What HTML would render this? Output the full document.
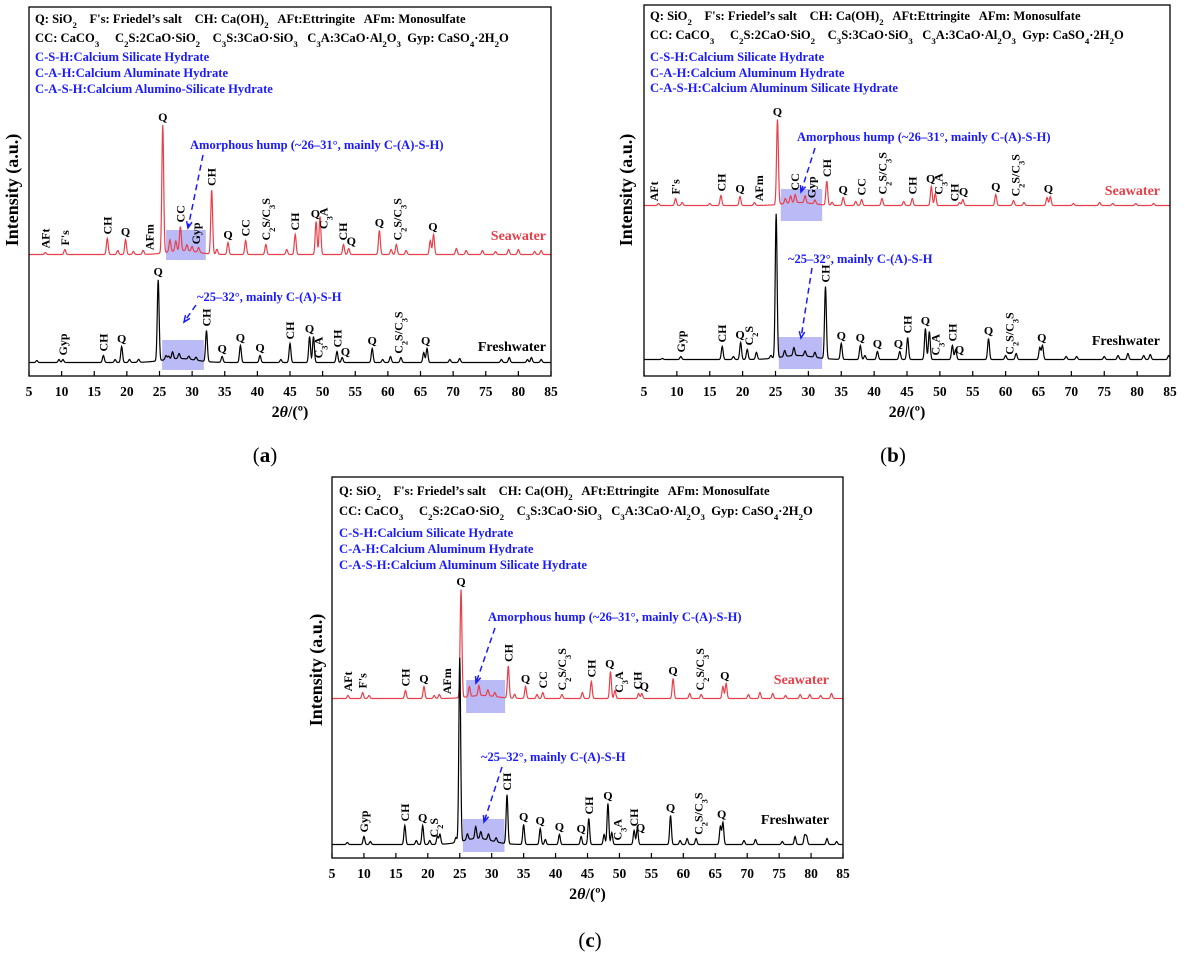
<!DOCTYPE html>
<html><head><meta charset="utf-8">
<style>
html,body{margin:0;padding:0;background:#fff;}
svg{display:block;font-family:"Liberation Serif",serif;}
.lg{font-size:12.6px;font-weight:bold;white-space:pre;}
.pk{font-size:12px;font-weight:bold;}
.tk{font-size:13.5px;font-weight:bold;}
</style></head>
<body>
<svg id="fig" width="1185" height="961" viewBox="0 0 1185 961" xmlns="http://www.w3.org/2000/svg"></svg>
<script>
// ---------- data ----------
const tickLabels = ["5","10","15","20","25","30","35","40","45","50","55","60","65","70","75","80","85"];
const tickValues = [5,10,15,20,25,30,35,40,45,50,55,60,65,70,75,80,85];

// panel (a) peaks: [2theta, intensity]
const seaPeaksA = [[7.5,2],[10.5,5],[17,16],[18.6,4],[19.8,15],[21,3],[22.5,4],[25.5,128],[26.6,12],[27.5,10],[28.2,24],[29.2,6],[30,5],[31,5],[33,64],[33.8,5],[35.5,12],[38.2,14],[41.3,10],[44.5,5],[45.8,20],[49,33],[49.6,38],[53.2,10],[54,6],[58.7,24],[60.5,5],[61.3,10],[62.8,4],[66.5,14],[67,20],[70.5,6],[72,4],[74.5,4],[76.5,3],[78.5,5],[80,5],[82.5,3],[83.5,4]];
const freshPeaksA = [[6.2,2],[9.6,3],[10.2,3],[16.4,7],[18.2,3],[19.2,16],[20.4,3],[21.8,3],[24.8,81],[26,4],[26.4,3],[27,7],[28,5],[29.5,3],[30.6,3],[32.2,31],[34.6,6],[37.4,17],[40.4,7],[43.6,3],[45,19],[48,26],[48.6,26],[52.2,11],[53,5],[57.6,14],[59.2,3],[60.4,6],[62,5],[65.5,10],[66,14],[69.5,3],[71,4],[77.4,3],[78.6,5],[81.4,3],[82,5],[83.5,3]];
// panel (b)
const seaPeaksB = [[7.2,2],[9.8,7],[10.8,3],[15,2],[16.7,10],[19.6,9],[21.8,3],[25.3,85],[26.5,5],[27.3,7],[28,8],[29.5,7],[31,4],[32.8,24],[33.6,3],[35.3,8],[37.2,4],[38.1,6],[41.2,7],[44.5,4],[45.8,7],[48.7,19],[49.3,12],[53,3],[53.5,6],[58.5,11],[61.2,5],[62.8,3],[66.3,8],[66.8,9],[70.3,2],[74.3,3],[76.3,2],[79.8,2],[82.5,2]];
const freshPeaksB = [[7.8,1],[10.6,3],[16.9,13],[18.6,3],[19.7,17],[20.7,10],[22.1,7],[24.3,3],[25.1,144],[26.4,6],[27.8,8],[29.5,5],[31,5],[32.6,72],[35,16],[37.9,14],[38.6,4],[40.5,8],[43.9,8],[45.1,22],[47.8,31],[48.4,28],[51.9,14],[52.4,10],[57.4,21],[60,4],[61.6,6],[65.2,12],[65.6,14],[69.2,3],[70.8,3],[75,3],[77.1,4],[78.6,6],[81,4],[82,5],[84.8,4]];
// panel (c)
const seaPeaksC = [[7.5,3],[9.8,6],[10.8,3],[16.5,8],[19.4,12],[21,3],[21.8,4],[25.2,108],[26.5,10],[28,10],[29.4,6],[30.5,4],[32.6,32],[33.6,4],[35.3,12],[37.1,4],[38,6],[41,4],[44.2,6],[45.6,17],[48.6,27],[49.3,8],[53,5],[53.5,5],[58.4,20],[61,5],[62.8,4],[66.2,12],[66.7,15],[70.2,4],[72,6],[74,5],[76,3],[78.3,4],[79.8,4],[81.5,3],[83.2,5]];
const freshPeaksC = [[7.4,2],[10,8],[11,3],[16.4,19],[18.2,4],[19.2,19],[20.3,4],[21.5,8],[21.9,10],[24.4,5],[25,184],[26.2,6],[27.5,12],[28.3,7],[29.5,6],[30.7,4],[32.4,49],[35,20],[37.6,16],[38.4,5],[40.6,10],[44,8],[45.2,26],[47.6,10],[48.2,41],[48.8,12],[52.3,14],[52.8,16],[58,29],[59.5,4],[60.6,6],[62,6],[65.8,18],[66.2,22],[69.5,4],[71.3,5],[75.5,3],[77.5,8],[79,9],[79.3,8],[82.5,6],[84,3]];

// broad amorphous humps: [centre, width, height]
const humpSeaA=[28.5,2.2,4], humpFreshA=[28,2.5,4];
const humpSeaB=[28.5,2.2,3], humpFreshB=[28.3,2.5,4];
const humpSeaC=[28.5,2.2,3], humpFreshC=[27.8,2.3,6];

// phase labels: [2theta, text, rotated]
const labSeaA=[[7.5,"AFt",1],[10.5,"F's",1],[17,"CH",1],[19.8,"Q",0],[23.5,"AFm",1],[25.5,"Q",0],[28.2,"CC",1],[30.6,"Gyp",1],[33,"CH",1],[35.5,"Q",0],[38.2,"CC",1],[41.3,"C_2S/C_3S",1],[45.8,"CH",1],[48.9,"Q",0],[50.1,"C_3A",1],[53.1,"CH",1],[54.4,"Q",0],[58.7,"Q",0],[61.5,"C_2S/C_3S",1],[66.9,"Q",0]];
const labFreshA=[[10.2,"Gyp",1],[16.4,"CH",1],[19.2,"Q",0],[24.8,"Q",0],[32.2,"CH",1],[34.6,"Q",0],[37.4,"Q",0],[40.4,"Q",0],[45,"CH",1],[48,"Q",0],[49.4,"C_3A",1],[52.3,"CH",1],[53.5,"Q",0],[57.6,"Q",0],[61.6,"C_2S/C_3S",1],[65.8,"Q",0]];
const labSeaB=[[6.5,"AFt",1],[9.8,"F's",1],[16.8,"CH",1],[19.6,"Q",0],[22.5,"AFm",1],[25.3,"Q",0],[28,"CC",1],[30.5,"Gyp",1],[32.8,"CH",1],[35.3,"Q",0],[38.1,"CC",1],[41.3,"C_2S/C_3S",1],[45.8,"CH",1],[48.6,"Q",0],[49.8,"C_3A",1],[52.2,"CH",1],[53.6,"Q",0],[58.5,"Q",0],[61.5,"C_2S/C_3S",1],[66.5,"Q",0]];
const labFreshB=[[10.6,"Gyp",1],[16.9,"CH",1],[19.6,"Q",0],[21,"C_2S",1],[32.6,"CH",1],[35,"Q",0],[37.9,"Q",0],[40.5,"Q",0],[43.7,"Q",0],[45.1,"CH",1],[47.8,"Q",0],[49.3,"C_3A",1],[51.9,"CH",1],[53,"Q",0],[57.4,"Q",0],[60.6,"C_2S/C_3S",1],[65.5,"Q",0]];
const labSeaC=[[7.5,"AFt",1],[9.8,"F's",1],[16.5,"CH",1],[19.4,"Q",0],[23,"AFm",1],[25.2,"Q",0],[32.6,"CH",1],[35.3,"Q",0],[38,"CC",1],[41,"C_2S/C_3S",1],[45.6,"CH",1],[48.5,"Q",0],[49.9,"C_3A",1],[52.8,"CH",1],[53.9,"Q",0],[58.4,"Q",0],[62.6,"C_2S/C_3S",1],[66.5,"Q",0]];
const labFreshC=[[10,"Gyp",1],[16.4,"CH",1],[19.2,"Q",0],[21,"C_2S",1],[32.4,"CH",1],[35,"Q",0],[37.6,"Q",0],[40.6,"Q",0],[44,"Q",0],[45.2,"CH",1],[48.2,"Q",0],[49.7,"C_3A",1],[52.3,"CH",1],[53.3,"Q",0],[58,"Q",0],[62.4,"C_2S/C_3S",1],[66,"Q",0]];

// ---------- helpers ----------
const NS="http://www.w3.org/2000/svg";
const fig=document.getElementById('fig');
function mk(tag,attrs,parent){const e=document.createElementNS(NS,tag);for(const k in attrs)e.setAttribute(k,attrs[k]);(parent||fig).appendChild(e);return e;}
function rich(el,str,size){
  const parts=str.split(/(_\d)/);
  parts.forEach(p=>{
    if(!p)return;
    const t=document.createElementNS(NS,'tspan');
    if(p[0]==='_'){t.textContent=p[1];t.setAttribute('font-size',(size*0.7)+'px');t.setAttribute('baseline-shift','sub');}
    else t.textContent=p;
    el.appendChild(t);
  });
}
function spec(peaks,hump,x){
  let v=1.5;
  for(const [p,h] of peaks){const d=(x-p)/0.14;v+=h*Math.exp(-d*d/2);}
  const d=(x-hump[0])/hump[1];v+=hump[2]*Math.exp(-d*d/2);
  return v;
}
function drawPanel(P){
  const g=mk('g',{});
  
  
  const xS=v=>P.x0+(v-5)/80*(P.x1-P.x0);
  const leg=[[P.l1,'#000'],[P.l2,'#000'],[P.b1,'#1a1aff'],[P.b2,'#1a1aff'],[P.b3,'#1a1aff']];
  leg.forEach((l,i)=>{
    const t=mk('text',{x:P.lx,y:P.ly[i],class:'lg',fill:l[1]},g);
    
    
    rich(t,l[0],12.6);
  });
  P.boxes.forEach(b=>{
    const r=mk('rect',{x:xS(b[0]),y:b[2],width:xS(b[1])-xS(b[0]),height:b[3]-b[2],fill:'rgba(90,90,235,0.42)'},g);
    
    
  });
  P.series.forEach(s=>{
    const yS=v=>s.base-v;
    let d='';
    for(let x=5;x<=85.001;x+=0.05){d+=(d?'L':'M')+xS(x).toFixed(2)+','+yS(spec(s.peaks,s.hump,x)).toFixed(2);}
    const pth=mk('path',{d:d,fill:'none',stroke:s.color,'stroke-width':1.2},g);
    
    
    s.labels.forEach(L=>{
      let m=0;for(let x=L[0]-0.35;x<=L[0]+0.35;x+=0.05)m=Math.max(m,spec(s.peaks,s.hump,x));
      const yb=yS(m)-4;
      let t;
      if(L[2]){t=mk('text',{transform:'translate('+(xS(L[0])+4).toFixed(1)+','+yb.toFixed(1)+') rotate(-90)',class:'pk',fill:'#000'},g);}
      else{t=mk('text',{x:xS(L[0]),y:yb,'text-anchor':'middle',class:'pk',fill:'#000'},g);}
      
      
      rich(t,L[1],12);
    });
    const st=mk('text',{x:s.lx,y:s.ly,'text-anchor':'end','font-size':'14px','font-weight':'bold',fill:s.color},g);
    
    
    st.textContent=s.title;
  });
  P.notes.forEach(n=>{
    const t=mk('text',{x:n.tx,y:n.ty,'font-size':'12.5px','font-weight':'bold',fill:'#1a1aff'},g);
    
    
    t.textContent=n.text;
    const ln=mk('line',{x1:n.a[0],y1:n.a[1],x2:n.a[2],y2:n.a[3],stroke:'#1a1aff','stroke-width':1.5,'stroke-dasharray':'6,4'},g);
    
    
    const ang=Math.atan2(n.a[3]-n.a[1],n.a[2]-n.a[0]);const L=7;
    const p1=[n.a[2]-L*Math.cos(ang-0.4),n.a[3]-L*Math.sin(ang-0.4)],p2=[n.a[2]-L*Math.cos(ang+0.4),n.a[3]-L*Math.sin(ang+0.4)];
    const ah=mk('polyline',{points:p1.join(',')+' '+n.a[2]+','+n.a[3]+' '+p2.join(','),fill:'none',stroke:'#1a1aff','stroke-width':1.5},g);
    
    
  });
  const fr=mk('rect',{x:P.x0,y:P.top,width:P.x1-P.x0,height:P.bottom-P.top,fill:'none',stroke:'#000','stroke-width':1.3},g);
  
  
  tickValues.forEach((v,i)=>{
    const tl=mk('line',{x1:xS(v),x2:xS(v),y1:P.bottom,y2:P.bottom-5,stroke:'#000','stroke-width':1.2},g);
    
    
    const tt=mk('text',{x:xS(v),y:P.bottom+20,'text-anchor':'middle',class:'tk'},g);
    
    
    tt.textContent=tickLabels[i];
  });
  const xt=mk('text',{x:(P.x0+P.x1)/2,y:P.bottom+41,'text-anchor':'middle','font-size':'16px','font-weight':'bold'},g);
  
  
  xt.innerHTML='2<tspan font-style="italic">θ</tspan>/(º)';
  const yt=mk('text',{transform:'translate('+P.ytx+','+P.yty+') rotate(-90)','text-anchor':'middle','font-size':'18px','font-weight':'bold'},g);
  
  
  yt.textContent='Intensity (a.u.)';
  const pl=mk('text',{x:P.px,y:P.py,'text-anchor':'middle','font-size':'21px'},g);
  
  
  pl.innerHTML='(<tspan font-weight="bold">'+P.letter+'</tspan>)';
}
const L1="Q: SiO_2    F's: Friedel’s salt    CH: Ca(OH)_2   AFt:Ettringite   AFm: Monosulfate";
const L2="CC: CaCO_3     C_2S:2CaO·SiO_2    C_3S:3CaO·SiO_3   C_3A:3CaO·Al_2O_3  Gyp: CaSO_4·2H_2O";
const RED='#e8404a';
drawPanel({name:'panel-a',letter:'a',x0:29,x1:551,top:7,bottom:376,lx:35,ly:[23,42,61,77,93],
  l1:L1,l2:L2,b1:'C-S-H:Calcium Silicate Hydrate',b2:'C-A-H:Calcium Aluminate Hydrate',b3:'C-A-S-H:Calcium Alumino-Silicate Hydrate',
  boxes:[[26,32.1,230,260],[25.4,31.8,340,370]],
  series:[{name:'seawater',title:'Seawater',color:RED,base:256,peaks:seaPeaksA,hump:humpSeaA,labels:labSeaA,lx:546,ly:240},
          {name:'freshwater',title:'Freshwater',color:'#000',base:364,peaks:freshPeaksA,hump:humpFreshA,labels:labFreshA,lx:546,ly:351}],
  notes:[{text:'Amorphous hump (~26–31°, mainly C-(A)-S-H)',tx:190,ty:149,a:[203,155,188,228]},{text:'~25–32°, mainly C-(A)-S-H',tx:197,ty:301,a:[196,305,184,322]}],
  ytx:18,yty:190,px:265,py:462});
drawPanel({name:'panel-b',letter:'b',x0:644,x1:1170,top:5,bottom:376,lx:650,
  ly:[20,39,61,77,92],
  l1:L1,l2:L2,b1:'C-S-H:Calcium Silicate Hydrate',b2:'C-A-H:Calcium Aluminum Hydrate',b3:'C-A-S-H:Calcium Aluminum Silicate Hydrate',
  boxes:[[25.8,32.1,189,221],[25.5,32.1,337,369]],
  series:[{name:'seawater',title:'Seawater',color:RED,base:207,peaks:seaPeaksB,hump:humpSeaB,labels:labSeaB,lx:1160,ly:195},
          {name:'freshwater',title:'Freshwater',color:'#000',base:361,peaks:freshPeaksB,hump:humpFreshB,labels:labFreshB,lx:1160,ly:345}],
  notes:[{text:'Amorphous hump (~26–31°, mainly C-(A)-S-H)',tx:797,ty:141,a:[815,148,801,192]},{text:'~25–32°, mainly C-(A)-S-H',tx:788,ty:263,a:[812,268,801,338]}],
  ytx:632,yty:190,px:893,py:462});
drawPanel({name:'panel-c',letter:'c',x0:332,x1:843,top:477,bottom:858,lx:339,ly:[495,515,537,553,569],
  l1:L1,l2:L2,b1:'C-S-H:Calcium Silicate Hydrate',b2:'C-A-H:Calcium Aluminum Hydrate',b3:'C-A-S-H:Calcium Aluminum Silicate Hydrate',
  boxes:[[26,32.1,680,713],[25.5,32,819,852]],
  series:[{name:'seawater',title:'Seawater',color:RED,base:700,peaks:seaPeaksC,hump:humpSeaC,labels:labSeaC,lx:829,ly:684},
          {name:'freshwater',title:'Freshwater',color:'#000',base:846,peaks:freshPeaksC,hump:humpFreshC,labels:labFreshC,lx:829,ly:824}],
  notes:[{text:'Amorphous hump (~26–31°, mainly C-(A)-S-H)',tx:488,ty:621,a:[495,628,476,683]},{text:'~25–32°, mainly C-(A)-S-H',tx:481,ty:761,a:[502,767,484,822]}],
  ytx:322,yty:670,px:590,py:947});
</script>
</body></html>
